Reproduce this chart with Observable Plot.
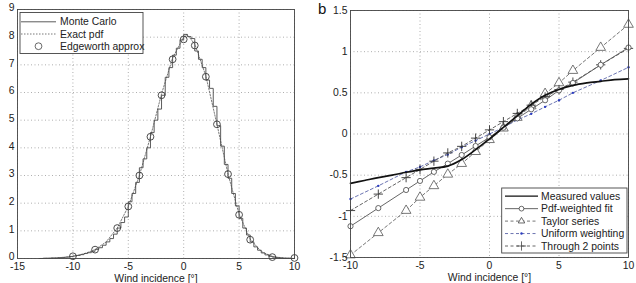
<!DOCTYPE html>
<html>
<head>
<meta charset="utf-8">
<script src="https://cdn.jsdelivr.net/npm/d3@7"></script>
<script src="https://cdn.jsdelivr.net/npm/@observablehq/plot@0.6"></script>
<style>
  body { margin: 0; background: #fff; }
  #wrap { position: relative; width: 636px; height: 283px; overflow: hidden; }
  #panelA, #panelB { position: absolute; top: 0; }
  #panelA { left: 0; }
  #panelB { left: 318px; }
</style>
</head>
<body>
<div id="wrap"><div id="panelA"></div><div id="panelB"></div></div>
<script>
// ---------- Panel a: distribution of wind incidence ----------
// Monte Carlo histogram: bin heights, bins of width 1/3 starting at -13
const mcBinStart = -13;
const mcBinWidth = 1 / 3;
const mcHeights = [
  0.00, 0.01, 0.01, 0.02, 0.02, 0.03, 0.04, 0.05, 0.07, 0.09,
  0.11, 0.14, 0.18, 0.21, 0.26, 0.33, 0.39, 0.48, 0.60, 0.72,
  0.88, 1.10, 1.30, 1.50, 2.05, 2.35, 2.75, 3.28, 3.60, 4.00,
  4.55, 5.00, 5.40, 5.90, 6.55, 6.90, 7.35, 7.60, 7.90, 8.10,
  8.02, 7.95, 7.50, 7.20, 6.90, 6.45, 6.15, 5.50, 4.80, 4.06,
  3.40, 2.90, 2.35, 1.90, 1.45, 1.10, 0.85, 0.60, 0.42, 0.30,
  0.20, 0.13, 0.08, 0.05, 0.03, 0.02, 0.01, 0.01, 0.00
];
// Exact pdf
const pdfX = [-13, -12, -11, -10, -9, -8, -7, -6, -5, -4, -3, -2, -1, 0, 0.3, 1, 2, 3, 4, 5, 6, 7, 8, 9, 10];
const pdfY = [0, 0.01, 0.03, 0.08, 0.17, 0.32, 0.6, 1.1, 1.88, 3.0, 4.4, 5.95, 7.25, 8.0, 8.1, 7.75, 6.6, 4.85, 3.05, 1.6, 0.7, 0.25, 0.07, 0.02, 0.0];
// Edgeworth approximation
const edgeX = [-10, -8, -6, -5, -4, -3, -2, -1, 0, 1, 2, 3, 4, 5, 6, 8, 10];
const edgeY = [0.08, 0.32, 1.1, 1.88, 3.0, 4.4, 5.9, 7.2, 7.92, 7.7, 6.57, 4.85, 3.05, 1.58, 0.68, 0.05, 0.02];

const xTicksA = [-15, -10, -5, 0, 5, 10];
const yTicksA = [0, 1, 2, 3, 4, 5, 6, 7, 8, 9];

// ---------- Panel b: fitted linear models ----------
const measX = [-10, -9, -8, -7, -6, -5, -4, -3, -2, -1, 0, 1, 2, 3, 4, 5, 6, 7, 8, 9, 10];
const measured = [-0.60, -0.565, -0.53, -0.50, -0.465, -0.435, -0.415, -0.39, -0.31, -0.19, -0.06, 0.08, 0.22, 0.36, 0.47, 0.54, 0.59, 0.62, 0.64, 0.66, 0.67];
const fitX = [-10, -8, -6, -5, -4, -3, -2, -1, 0, 1, 2, 3, 4, 5, 6, 8, 10];
const pdfWeighted = [-1.12, -0.90, -0.68, -0.57, -0.46, -0.36, -0.255, -0.146, -0.04, 0.077, 0.19, 0.30, 0.41, 0.53, 0.62, 0.84, 1.05];
const taylor = [-1.47, -1.20, -0.93, -0.77, -0.63, -0.49, -0.36, -0.215, -0.07, 0.07, 0.20, 0.34, 0.49, 0.62, 0.77, 1.05, 1.33];
const uniform = [-0.79, -0.63, -0.46, -0.40, -0.32, -0.25, -0.16, -0.08, 0.0, 0.08, 0.17, 0.245, 0.33, 0.41, 0.50, 0.65, 0.81];
const twoPoints = [-0.93, -0.73, -0.53, -0.43, -0.33, -0.23, -0.15, -0.05, 0.05, 0.15, 0.25, 0.35, 0.45, 0.54, 0.63, 0.84, 1.04];

const xTicksB = [-10, -5, 0, 5, 10];
const yTicksB = [-1.5, -1, -0.5, 0, 0.5, 1, 1.5];

const axisLabel = "Wind incidence [°]";

const FONT = '"Liberation Sans", Arial, Helvetica, sans-serif';
const FS = 10.4;
const INK = "#222";
const GRID = { stroke: "#9a9a9a", strokeOpacity: 1, strokeDasharray: "1,2.5", strokeWidth: 0.8 };
const fmt = d => String(d);

// build tables
const mcSteps = mcHeights.map((h, i) => ({ x: mcBinStart + i * mcBinWidth, y: h }));
mcSteps.push({ x: mcBinStart + mcHeights.length * mcBinWidth, y: mcHeights[mcHeights.length - 1] });
const pdfData = pdfX.map((x, i) => ({ x, y: pdfY[i] }));
const edgeData = edgeX.map((x, i) => ({ x, y: edgeY[i] }));

const measData = measX.map((x, i) => ({ x, y: measured[i] }));
const series = (vals) => fitX.map((x, i) => ({ x, y: vals[i] }));
const pdfWData = series(pdfWeighted);
const taylorData = series(taylor);
const uniformData = series(uniform);
const twoData = series(twoPoints);

function axes(xt, yt, yPad, yShift) {
  return [
    Plot.axisX({ ticks: xt, tickSize: 0, tickPadding: 4, tickFormat: fmt, label: null, fill: INK }),
    Plot.axisY({ ticks: yt, tickSize: 0, tickPadding: yPad, tickFormat: fmt, label: null, fill: INK, dy: yShift }),
    Plot.text([axisLabel], { frameAnchor: "bottom", lineAnchor: "middle", dy: 20, fill: INK, fontSize: FS })
  ];
}

const chartA = Plot.plot({
  width: 318, height: 283,
  marginLeft: 17, marginRight: 24, marginTop: 9, marginBottom: 25,
  style: { fontFamily: FONT, fontSize: FS + "px", background: "#fff", color: INK, overflow: "visible" },
  x: { domain: [-15, 10] },
  y: { domain: [0, 9] },
  marks: [
    Plot.gridX(xTicksA, GRID),
    Plot.gridY(yTicksA, GRID),
    Plot.line(pdfData, { x: "x", y: "y", stroke: "#6a6a6a", strokeWidth: 0.9, strokeDasharray: "1.5,1.5" }),
    Plot.line(mcSteps, { x: "x", y: "y", curve: "step-after", stroke: "#4a4a4a", strokeWidth: 0.9 }),
    Plot.dot(edgeData, { x: "x", y: "y", r: 3.4, stroke: "#3a3a3a", strokeWidth: 0.9, fill: "none" }),
    Plot.frame({ stroke: "#444", strokeWidth: 0.9 }),
    ...axes(xTicksA, yTicksA, 3, -1.5)
  ]
});

const chartB = Plot.plot({
  width: 318, height: 283,
  marginLeft: 32, marginRight: 8, marginTop: 10, marginBottom: 26,
  style: { fontFamily: FONT, fontSize: FS + "px", background: "#fff", color: INK, overflow: "visible" },
  x: { domain: [-10, 10] },
  y: { domain: [-1.5, 1.5] },
  marks: [
    Plot.gridX(xTicksB, GRID),
    Plot.gridY(yTicksB, GRID),
    Plot.line(taylorData, { x: "x", y: "y", stroke: "#666", strokeWidth: 0.9, strokeDasharray: "3,2.5" }),
    Plot.dot(taylorData, { x: "x", y: "y", symbol: "triangle", r: 3.6, stroke: "#555", strokeWidth: 0.8, fill: "#fff" }),
    Plot.line(uniformData, { x: "x", y: "y", stroke: "#5a64a8", strokeWidth: 0.9, strokeDasharray: "3,2.5" }),
    Plot.dot(uniformData, { x: "x", y: "y", r: 1.2, fill: "#2b3cc0", stroke: "none" }),
    Plot.line(twoData, { x: "x", y: "y", stroke: "#555", strokeWidth: 0.9, strokeDasharray: "3,2.5" }),
    Plot.dot(twoData, { x: "x", y: "y", symbol: "plus", r: 3.1, stroke: "#333", strokeWidth: 0.9 }),
    Plot.line(pdfWData, { x: "x", y: "y", stroke: "#555", strokeWidth: 0.9 }),
    Plot.dot(pdfWData, { x: "x", y: "y", r: 2.6, stroke: "#444", strokeWidth: 0.8, fill: "#fff" }),
    Plot.line(measData, { x: "x", y: "y", curve: "catmull-rom", stroke: "#111", strokeWidth: 1.7 }),
    Plot.frame({ stroke: "#444", strokeWidth: 0.9 }),
    ...axes(xTicksB, yTicksB, 3, 0)
  ]
});

document.getElementById("panelA").appendChild(chartA);
document.getElementById("panelB").appendChild(chartB);

// ---------- legends ----------
function legend(svg, box, rows) {
  const g = d3.select(svg).append("g")
    .attr("font-family", FONT).attr("font-size", FS).attr("fill", INK)
    .attr("text-anchor", "start");
  g.append("rect").attr("x", box.x).attr("y", box.y).attr("width", box.w).attr("height", box.h)
    .attr("fill", "#fff").attr("stroke", "#444").attr("stroke-width", 0.9);
  rows.forEach((r, i) => {
    const y = box.rowY + i * box.rowStep;
    if (r.line) {
      g.append("line").attr("x1", box.lx1).attr("x2", box.lx2).attr("y1", y).attr("y2", y)
        .attr("stroke", r.stroke).attr("stroke-width", r.width || 0.9)
        .attr("stroke-dasharray", r.dash || null);
    }
    const cx = (box.lx1 + box.lx2) / 2;
    if (r.marker === "circle") {
      g.append("circle").attr("cx", cx).attr("cy", y).attr("r", r.r)
        .attr("fill", "#fff").attr("stroke", "#444").attr("stroke-width", 0.8);
    } else if (r.marker === "dot") {
      g.append("circle").attr("cx", cx).attr("cy", y).attr("r", 1.2).attr("fill", "#2b3cc0");
    } else if (r.marker) {
      const sym = { triangle: d3.symbolTriangle2, plus: d3.symbolPlus }[r.marker];
      g.append("path").attr("transform", `translate(${cx},${y})`)
        .attr("d", d3.symbol(sym, r.size)())
        .attr("fill", r.marker === "triangle" ? "#fff" : "none").attr("stroke", "#444").attr("stroke-width", 0.8);
    }
    g.append("text").attr("x", box.tx).attr("y", y).attr("dy", "0.35em").text(r.label);
  });
}

legend(chartA, { x: 20, y: 12.5, w: 123, h: 41, rowY: 21.8, rowStep: 12.2, lx1: 21, lx2: 56, tx: 60 }, [
  { label: "Monte Carlo", line: true, stroke: "#4a4a4a" },
  { label: "Exact pdf", line: true, stroke: "#6a6a6a", dash: "1.5,1.5" },
  { label: "Edgeworth approx", marker: "circle", r: 3.4 }
]);

legend(chartB, { x: 183.7, y: 188, w: 125.3, h: 65, rowY: 196.2, rowStep: 12.45, lx1: 187, lx2: 220, tx: 223 }, [
  { label: "Measured values", line: true, stroke: "#111", width: 1.3 },
  { label: "Pdf-weighted fit", line: true, stroke: "#555", marker: "circle", r: 2.4 },
  { label: "Taylor series", line: true, stroke: "#666", dash: "3,2.5", marker: "triangle", size: 30 },
  { label: "Uniform weighting", line: true, stroke: "#5a64a8", dash: "3,2.5", marker: "dot" },
  { label: "Through 2 points", line: true, stroke: "#555", dash: "3,2.5", marker: "plus", size: 30 }
]);

// panel letter
d3.select(chartB).append("text")
  .attr("x", 0).attr("y", 13.5).attr("text-anchor", "start")
  .attr("font-family", FONT).attr("font-size", 15).attr("fill", "#111")
  .text("b");
</script>
</body>
</html>
